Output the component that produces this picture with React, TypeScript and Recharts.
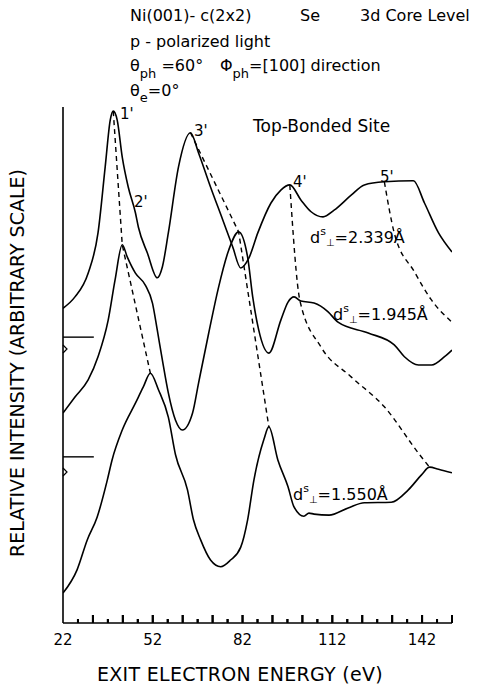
import { Line, LineChart, ReferenceLine, XAxis, YAxis } from "recharts";

// exit electron energy (eV) / relative intensity (arbitrary, offset per curve)
const topEnergy = [22, 26.0, 30.4, 33.7, 36.1, 37.8, 38.8, 40.1, 41.8, 43.8, 46.2, 47.2, 50.2, 53.5, 55.2, 57.2, 60.6, 64.6, 67.3, 71.3, 75.4, 78.7, 81.4, 84.1, 87.1, 91.5, 94.8, 97.8, 101.5, 104.9, 108.9, 112.6, 118.3, 122.7, 129.4, 139.1, 142.8, 147.5, 152];
const topIntensity = [6.10, 6.32, 6.78, 7.56, 8.84, 9.75, 9.92, 9.75, 9.03, 8.45, 7.95, 7.67, 7.17, 6.69, 6.90, 7.56, 8.84, 9.50, 9.11, 8.45, 7.81, 7.29, 6.88, 7.07, 7.56, 8.14, 8.39, 8.49, 8.20, 7.97, 7.87, 8.00, 8.29, 8.49, 8.55, 8.57, 8.14, 7.56, 7.19];

const midEnergy = [22, 26.0, 30.4, 33.7, 37.1, 39.4, 41.8, 43.5, 46.2, 49.5, 51.9, 53.5, 55.2, 57.2, 59.6, 61.9, 65.3, 67.3, 70.7, 74.0, 77.4, 80.7, 83.7, 85.4, 87.4, 90.8, 94.8, 97.2, 99.2, 101.5, 105.9, 110.6, 113.9, 124.0, 132.7, 136.1, 140.8, 145.2, 149.5, 152];
const midIntensity = [4.07, 4.38, 4.71, 5.16, 5.87, 6.65, 7.33, 7.09, 6.78, 6.55, 6.20, 5.68, 5.10, 4.46, 3.93, 3.74, 4.07, 4.65, 5.62, 6.51, 7.23, 7.58, 7.09, 6.32, 5.68, 5.23, 5.87, 6.22, 6.32, 6.24, 6.20, 6.03, 5.83, 5.62, 5.39, 5.16, 5.00, 5.00, 5.16, 5.29];

const lowEnergy = [22, 26.7, 30.1, 33.4, 36.8, 38.4, 41.8, 46.2, 48.8, 51.2, 53.9, 57.2, 59.6, 63.6, 65.6, 68.0, 71.3, 74.7, 78.0, 81.4, 83.7, 85.8, 89.1, 90.8, 93.8, 97.2, 99.2, 102.5, 104.2, 105.9, 110.9, 117.3, 122.7, 131.7, 137.4, 141.8, 144.5, 147.5, 152];
const lowIntensity = [0.58, 1.03, 1.61, 2.05, 2.77, 3.16, 3.74, 4.26, 4.57, 4.84, 4.52, 3.99, 3.26, 2.58, 2.00, 1.61, 1.22, 1.09, 1.22, 1.47, 2.00, 2.77, 3.55, 3.80, 3.16, 2.64, 2.25, 2.07, 2.13, 2.11, 2.09, 2.23, 2.33, 2.34, 2.58, 2.87, 3.02, 2.98, 2.91];

// dashed lines following the peaks from curve to curve
const peak1Energy = [38.8, 41.8, 51.2];
const peak1Intensity = [9.92, 7.33, 4.84];
const peak3Energy = [64.6, 80.7, 90.8];
const peak3Intensity = [9.50, 7.58, 3.80];
const peak4Energy = [97.8, 101.2, 108.2, 118.3, 129.4, 140.8, 144.5];
const peak4Intensity = [8.49, 6.24, 5.35, 4.77, 4.19, 3.29, 3.02];
const peak5Energy = [129.4, 132.7, 139.5, 145.0, 152];
const peak5Intensity = [8.55, 7.56, 6.80, 6.27, 5.83];

// zero levels of the two shifted curves
const baseMarks = [5.54, 3.22];

const xTicks = [22, 27, 32, 37, 42, 47, 52, 57, 62, 67, 72, 77, 82, 87, 92, 97, 102, 107, 112, 117, 122, 127, 132, 137, 142, 147, 152];
const xLabels = [22, 52, 82, 112, 142];

const zip = (es: number[], vs: number[]) => es.map((e, i) => ({ e, v: vs[i] }));

const FONT = "DejaVu Sans";
const PX = 10 / 516; // intensity units per pixel

function EnergyTick(props: any) {
  const { x, y, payload } = props;
  const v = payload.value;
  const step = Math.round((v - 22) / 5);
  const h = step === 0 ? 0 : step % 2 === 0 ? 8 : 4;
  return (
    <g>
      {h > 0 && <path d={`M${x},${y}L${x},${y - h}`} stroke="#000" strokeWidth={2} />}
      {xLabels.includes(v) && (
        <text x={x} y={y + 22} textAnchor="middle" fontSize={15} fontFamily={FONT} fill="#000">
          {v}
        </text>
      )}
    </g>
  );
}

function DLabel({ x, y, value }: { x: number; y: number; value: string }) {
  return (
    <text x={x} y={y} fontSize={16} fontFamily={FONT} fill="#000">
      d
      <tspan fontSize={11} dy={-8}>s</tspan>
      <tspan fontSize={10} dy={11}>⊥</tspan>
      <tspan dy={-3}>{"=" + value + "Å"}</tspan>
    </text>
  );
}

export default function App() {
  const curves = [zip(topEnergy, topIntensity), zip(midEnergy, midIntensity), zip(lowEnergy, lowIntensity)];
  const dashes = [
    { d: zip(peak1Energy, peak1Intensity), t: "linear" },
    { d: zip(peak3Energy, peak3Intensity), t: "linear" },
    { d: zip(peak4Energy, peak4Intensity), t: "monotoneX" },
    { d: zip(peak5Energy, peak5Intensity), t: "monotoneX" },
  ];
  return (
    <div style={{ position: "absolute", left: 0, top: 0, width: 486, height: 687, background: "#fff" }}>
      <LineChart width={486} height={687} margin={{ top: 107, right: 34, bottom: 24, left: 43 }}>
        <XAxis
          type="number"
          dataKey="e"
          domain={[22, 152]}
          ticks={xTicks}
          interval={0}
          height={40}
          tickSize={0}
          tickMargin={0}
          tickLine={false}
          tick={<EnergyTick />}
          axisLine={{ stroke: "#000", strokeWidth: 1.6 }}
          allowDataOverflow
        />
        <YAxis
          type="number"
          domain={[0, 10]}
          width={20}
          tick={false}
          tickLine={false}
          axisLine={{ stroke: "#000", strokeWidth: 1.6 }}
          allowDataOverflow
        />
        {xTicks.slice(1).map((t, i) => (
          <ReferenceLine
            key={"t" + t}
            ifOverflow="visible"
            segment={[{ x: t, y: 0.5 * PX }, { x: t, y: (i % 2 === 0 ? 4 : 8) * PX }]}
            stroke="#000"
            strokeWidth={2}
          />
        ))}
        {baseMarks.map((m, i) => (
          <ReferenceLine
            key={"b" + i}
            ifOverflow="visible"
            segment={[{ x: 22, y: m }, { x: 32.3, y: m }]}
            stroke="#000"
            strokeWidth={1.4}
          />
        ))}
        {curves.map((c, i) => (
          <Line
            key={"c" + i}
            data={c}
            dataKey="v"
            type="monotoneX"
            stroke="#000"
            strokeWidth={1.6}
            dot={false}
            activeDot={false}
            isAnimationActive={false}
          />
        ))}
        {dashes.map((s, i) => (
          <Line
            key={"d" + i}
            data={s.d}
            dataKey="v"
            type={s.t as any}
            stroke="#000"
            strokeWidth={1.4}
            strokeDasharray="5 4"
            dot={false}
            activeDot={false}
            isAnimationActive={false}
          />
        ))}
      </LineChart>
      <svg
        width={486}
        height={687}
        style={{ position: "absolute", left: 0, top: 0, pointerEvents: "none" }}
        fontFamily={FONT}
        fill="#000"
      >
        <text x={130} y={21} fontSize={16}>Ni(001)- c(2x2)</text>
        <text x={300} y={21} fontSize={16}>Se</text>
        <text x={360} y={21} fontSize={16}>3d Core Level</text>
        <text x={130} y={47} fontSize={16}>p - polarized light</text>
        <text x={130} y={71} fontSize={16}>
          θ<tspan fontSize={13} dy={7}>ph</tspan>
          <tspan dy={-7}> =60°</tspan>
        </text>
        <text x={220} y={71} fontSize={16}>
          Φ<tspan fontSize={13} dy={7}>ph</tspan>
          <tspan dy={-7}>=[100] direction</tspan>
        </text>
        <text x={130} y={96} fontSize={16}>
          θ<tspan fontSize={13} dy={6}>e</tspan>
          <tspan dy={-6}>=0°</tspan>
        </text>
        <text x={253} y={132} fontSize={17}>Top-Bonded Site</text>

        <text x={120} y={119} fontSize={15}>1'</text>
        <text x={134} y={207} fontSize={15}>2'</text>
        <text x={194} y={136} fontSize={15}>3'</text>
        <text x={293} y={187} fontSize={15}>4'</text>
        <text x={380} y={182} fontSize={15}>5'</text>

        <DLabel x={310} y={243} value="2.339" />
        <DLabel x={333} y={320} value="1.945" />
        <DLabel x={293} y={500} value="1.550" />

        <path d="M63 345 L67 349 L63 353" fill="none" stroke="#000" strokeWidth={1.2} />
        <path d="M63 468 L67 472 L63 476" fill="none" stroke="#000" strokeWidth={1.2} />

        <text x={240} y={681} fontSize={19} textAnchor="middle" letterSpacing={0.3}>
          EXIT ELECTRON ENERGY (eV)
        </text>
        <text x={24} y={363} fontSize={19} textAnchor="middle" transform="rotate(-90 24 363)">
          RELATIVE INTENSITY (ARBITRARY SCALE)
        </text>
      </svg>
    </div>
  );
}
